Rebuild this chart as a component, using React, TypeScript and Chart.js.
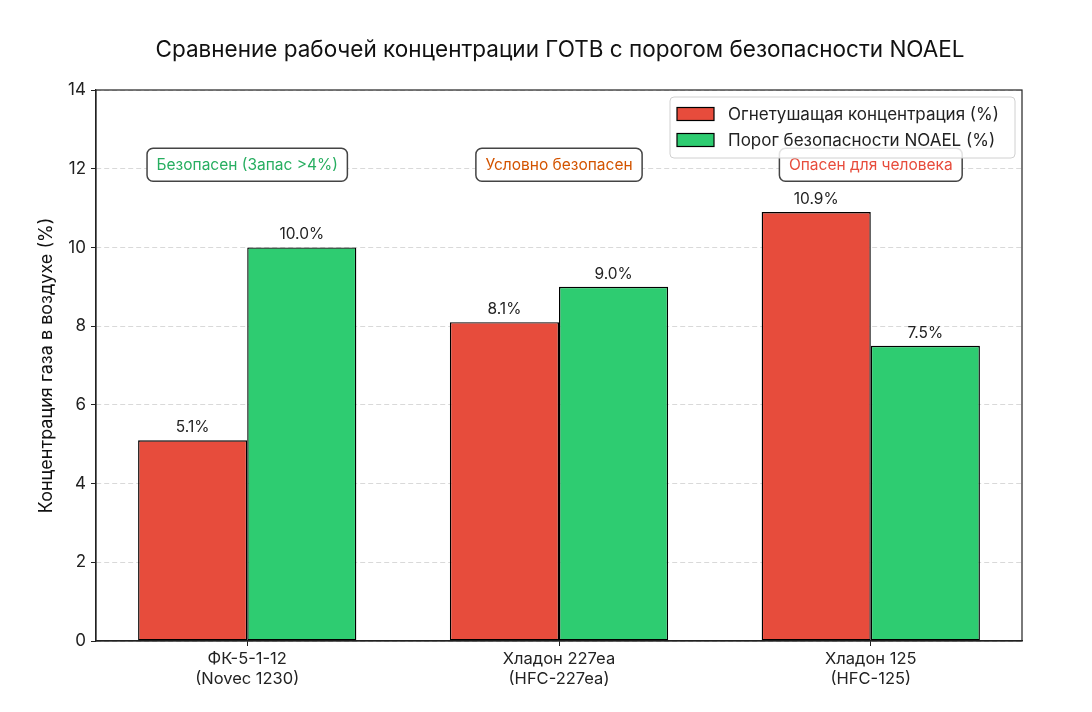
import { useEffect, useRef } from "react";
import { Chart, registerables } from "chart.js";

Chart.register(...registerables);

const categories = [
  ["ФК-5-1-12", "(Novec 1230)"],
  ["Хладон 227ea", "(HFC-227ea)"],
  ["Хладон 125", "(HFC-125)"],
];
const extinguishing = [5.1, 8.1, 10.9];
const noael = [10.0, 9.0, 7.5];
const verdicts = ["Безопасен (Запас >4%)", "Условно безопасен", "Опасен для человека"];
const verdictColors = ["#27ae60", "#d35400", "#e74c3c"];
const seriesNames = ["Огнетушащая концентрация (%)", "Порог безопасности NOAEL (%)"];
const seriesColors = ["#e74c3c", "#2ecc71"];

const FONT = "Inter, 'Open Sans', sans-serif";

function roundRect(ctx: CanvasRenderingContext2D, x: number, y: number, w: number, h: number, r: number) {
  ctx.beginPath();
  ctx.moveTo(x + r, y);
  ctx.lineTo(x + w - r, y);
  ctx.arcTo(x + w, y, x + w, y + r, r);
  ctx.lineTo(x + w, y + h - r);
  ctx.arcTo(x + w, y + h, x + w - r, y + h, r);
  ctx.lineTo(x + r, y + h);
  ctx.arcTo(x, y + h, x, y + h - r, r);
  ctx.lineTo(x, y + r);
  ctx.arcTo(x, y, x + r, y, r);
  ctx.closePath();
}

// Frame, labels, annotation boxes and legend drawn on top of the bars.
const overlay = {
  id: "overlay",
  afterDatasetsDraw(chart: any) {
    const { ctx, chartArea: a, scales } = chart;
    ctx.save();

    // value labels
    ctx.font = `15.5px ${FONT}`;
    ctx.fillStyle = "#222";
    ctx.textAlign = "center";
    ctx.textBaseline = "bottom";
    chart.data.datasets.forEach((ds: any, di: number) => {
      chart.getDatasetMeta(di).data.forEach((bar: any, i: number) => {
        ctx.fillText(ds.data[i].y.toFixed(1) + "%", bar.x, bar.y - 5);
      });
    });

    // frame
    ctx.strokeStyle = "#222";
    ctx.lineWidth = 1.2;
    ctx.strokeRect(a.left, a.top, a.right - a.left, a.bottom - a.top);

    // verdict boxes
    ctx.font = `15.5px ${FONT}`;
    ctx.textBaseline = "middle";
    const yc = scales.y.getPixelForValue(12) - 4;
    verdicts.forEach((t, i) => {
      const xc = scales.x.getPixelForValue(i);
      const w = ctx.measureText(t).width + 19;
      const h = 33;
      roundRect(ctx, xc - w / 2, yc - h / 2, w, h, 6);
      ctx.fillStyle = "#fff";
      ctx.fill();
      ctx.strokeStyle = "#444";
      ctx.lineWidth = 1.5;
      ctx.stroke();
      ctx.fillStyle = verdictColors[i];
      ctx.fillText(t, xc, yc + 1);
    });

    // legend
    const lx = 670, ly = 97, lw = 345, lh = 61;
    roundRect(ctx, lx, ly, lw, lh, 4);
    ctx.fillStyle = "rgba(255,255,255,0.85)";
    ctx.fill();
    ctx.strokeStyle = "#d0d0d0";
    ctx.lineWidth = 1;
    ctx.stroke();
    ctx.font = `17px ${FONT}`;
    ctx.textAlign = "left";
    seriesNames.forEach((n, i) => {
      const cy = ly + 17 + i * 26;
      ctx.fillStyle = seriesColors[i];
      ctx.fillRect(677, cy - 6.5, 37, 13);
      ctx.strokeStyle = "#000";
      ctx.lineWidth = 1.2;
      ctx.strokeRect(677, cy - 6.5, 37, 13);
      ctx.fillStyle = "#222";
      ctx.fillText(n, 728, cy + 1);
    });

    // title and y-axis label
    ctx.font = `22.5px ${FONT}`;
    ctx.textAlign = "center";
    ctx.fillStyle = "#111";
    ctx.fillText("Сравнение рабочей концентрации ГОТВ с порогом безопасности NOAEL", (a.left + a.right) / 2 + 1, 50);
    ctx.font = `18px ${FONT}`;
    ctx.translate(47, (a.top + a.bottom) / 2);
    ctx.rotate(-Math.PI / 2);
    ctx.fillText("Концентрация газа в воздухе (%)", 0, 0);
    ctx.restore();
  },
};

export default function App() {
  const canvasRef = useRef<HTMLCanvasElement>(null);

  useEffect(() => {
    document.body.style.margin = "0";
    const canvas = canvasRef.current;
    if (!canvas) return;

    const chart = new Chart(canvas.getContext("2d")!, {
      type: "bar",
      data: {
        datasets: [
          {
            label: seriesNames[0],
            data: extinguishing.map((v, i) => ({ x: i, y: v })),
            backgroundColor: seriesColors[0],
            borderColor: "#000",
            borderWidth: 1.4,
            borderSkipped: false,
          },
          {
            label: seriesNames[1],
            data: noael.map((v, i) => ({ x: i, y: v })),
            backgroundColor: seriesColors[1],
            borderColor: "#000",
            borderWidth: 1.4,
            borderSkipped: false,
          },
        ],
      },
      options: {
        animation: false,
        responsive: true,
        maintainAspectRatio: false,
        layout: { padding: { top: 90, right: 70, left: 0, bottom: 0 } },
        datasets: { bar: { categoryPercentage: 0.7, barPercentage: 1 } },
        plugins: { legend: { display: false }, tooltip: { enabled: false } },
        scales: {
          x: {
            type: "linear",
            min: -0.485,
            max: 2.485,
            offset: false,
            afterFit: (s: any) => {
              s.height = 71;
            },
            afterBuildTicks: (s: any) => {
              s.ticks = categories.map((_, i) => ({ value: i }));
            },
            grid: { offset: false, drawOnChartArea: false, tickLength: 5, tickColor: "#222" },
            border: { color: "#222", width: 1.2 },
            ticks: {
              color: "#222",
              padding: 3,
              autoSkip: false,
              maxRotation: 0,
              font: { size: 16.5, family: FONT },
              callback: (v: any) => categories[Math.round(Number(v))] ?? "",
            },
          },
          y: {
            min: 0,
            max: 14,
            afterFit: (s: any) => {
              s.width = 96;
            },
            ticks: { stepSize: 2, color: "#222", padding: 5, font: { size: 17, family: FONT } },
            grid: { color: "#d9d9d9", tickLength: 5, tickColor: "#222", tickBorderDash: [], lineWidth: 1 },
            border: { color: "#222", width: 1.2, dash: [5, 3] },
          },
        },
      },
      plugins: [overlay],
    });

    return () => chart.destroy();
  }, []);

  return (
    <div style={{ width: 1092, height: 712, background: "#fff" }}>
      <canvas ref={canvasRef} />
    </div>
  );
}
